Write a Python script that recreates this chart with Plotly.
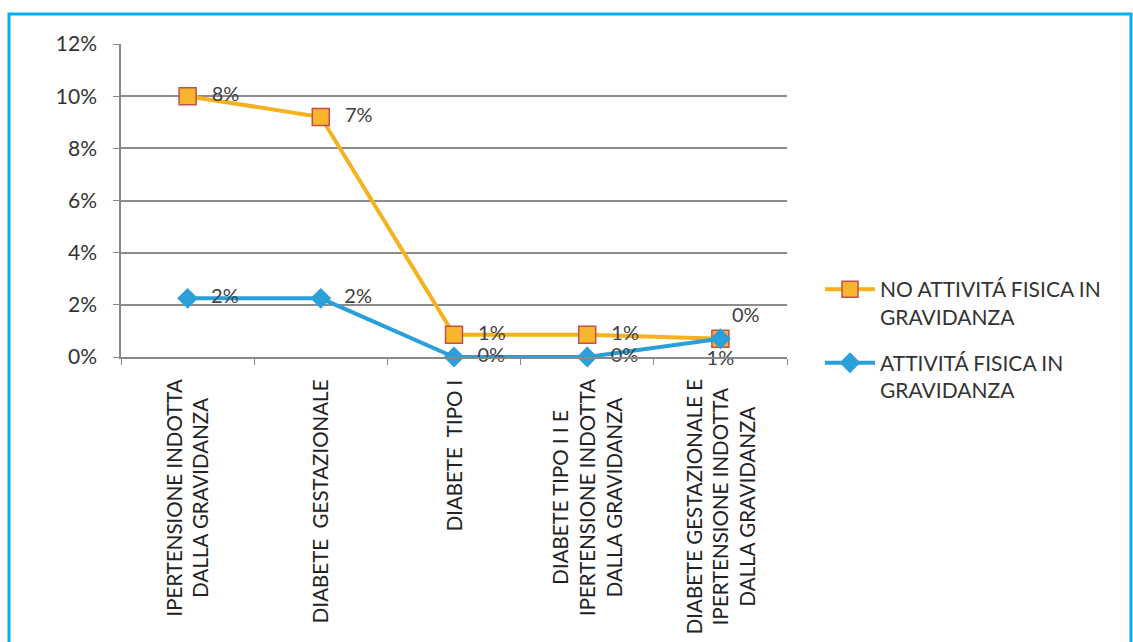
import plotly.graph_objects as go

categories = [
    "IPERTENSIONE INDOTTA<br>DALLA GRAVIDANZA",
    "DIABETE  GESTAZIONALE",
    "DIABETE  TIPO I",
    "DIABETE TIPO I I E<br>IPERTENSIONE INDOTTA<br>DALLA GRAVIDANZA",
    "DIABETE GESTAZIONALE E<br>IPERTENSIONE INDOTTA<br>DALLA GRAVIDANZA",
]
no_attivita = [0.100, 0.092, 0.0085, 0.0085, 0.007]
no_attivita_labels = ["8%", "7%", "1%", "1%", "0%"]
attivita = [0.0225, 0.0225, 0.0, 0.0, 0.007]
attivita_labels = ["2%", "2%", "0%", "0%", "1%"]
y_ticks = [0, 0.02, 0.04, 0.06, 0.08, 0.10, 0.12]
y_ticklabels = ["0%", "2%", "4%", "6%", "8%", "10%", "12%"]

FONT = "Lato"
W, H = 1133, 642
L, R, T, B = 121, 346, 44, 285
pw, ph = W - L - R, H - T - B

xs = list(range(len(categories)))

def pad(labels, pos):
    return ["\u2002\u2009" + t if p == "middle right" else t for t, p in zip(labels, pos)]

pos_no = ["middle right"] * 4 + ["top right"]
pos_si = ["middle right"] * 4 + ["bottom center"]

fig = go.Figure()
fig.add_trace(go.Scatter(
    x=xs, y=no_attivita, mode="lines+markers+text",
    name="NO ATTIVITÁ FISICA IN<br>GRAVIDANZA", legendgroup="no",
    line=dict(color="#F5B11E", width=4),
    marker=dict(symbol="square", size=17, color="#F7B52C",
                line=dict(color="#C0504D", width=1.5)),
    text=pad(no_attivita_labels, pos_no),
    textposition=pos_no,
    textfont=dict(family=FONT, size=20, color="#404040"),
    cliponaxis=False,
))
fig.add_trace(go.Scatter(
    x=xs, y=attivita, mode="lines+markers+text",
    name="ATTIVITÁ FISICA IN<br>GRAVIDANZA", legendgroup="si",
    line=dict(color="#2B9FDA", width=4),
    marker=dict(symbol="diamond", size=16, color="#2B9FDA"),
    text=pad(attivita_labels, pos_si),
    textposition=pos_si,
    textfont=dict(family=FONT, size=20, color="#404040"),
    cliponaxis=False,
))

for i, c in enumerate(categories):
    fig.add_annotation(
        x=i, xref="x", y=-0.065, yref="paper",
        text=c, textangle=-90, showarrow=False,
        xanchor="center", yanchor="top", align="center",
        font=dict(family=FONT, size=20.5, color="#222222"),
    )

# cyan frame
fig.add_shape(type="rect", xref="paper", yref="paper",
              x0=(9 - L) / pw, x1=(1131 - L) / pw,
              y0=(T + ph - 650) / ph, y1=(T + ph - 14) / ph,
              line=dict(color="#00B0F0", width=3), fillcolor="rgba(0,0,0,0)",
              layer="below")

fig.update_layout(
    width=W, height=H,
    margin=dict(l=L, r=R, t=T, b=B),
    paper_bgcolor="white", plot_bgcolor="white",
    font=dict(family=FONT, size=20, color="#333333"),
    showlegend=True,
    legend=dict(x=(820 - L) / pw, y=(T + ph - 269) / ph, xanchor="left", yanchor="top",
                font=dict(family=FONT, size=21, color="#333333"),
                traceorder="grouped", tracegroupgap=16, itemwidth=50, valign="top",
                bgcolor="rgba(0,0,0,0)"),
    xaxis=dict(range=[-0.5, len(categories) - 0.5], tickvals=[i + 0.5 for i in range(-1, len(categories))],
               showticklabels=False, ticks="outside", ticklen=6, tickcolor="#888888",
               showgrid=False, zeroline=False, showline=True, linecolor="#888888", linewidth=1.5),
    yaxis=dict(range=[0, 0.12], tickvals=y_ticks, ticktext=y_ticklabels,
               ticks="outside", ticklen=6, tickcolor="#888888", ticklabelstandoff=12,
               showgrid=True, gridcolor="#8C8C8C", gridwidth=1.5,
               showline=True, linecolor="#888888", linewidth=1.5, zeroline=False,
               tickfont=dict(family=FONT, size=21, color="#333333")),
)

fig.write_html("out.html")
